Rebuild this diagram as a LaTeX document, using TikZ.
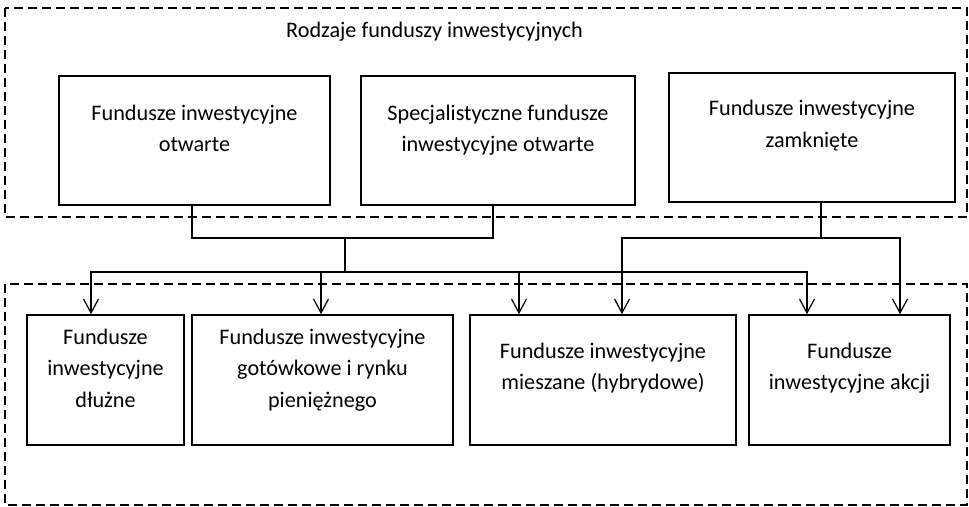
\documentclass[tikz,border=0pt]{standalone}
\usepackage{fontspec}
\setmainfont{Carlito}
\usetikzlibrary{arrows.meta,calc}
\begin{document}
\begin{tikzpicture}[x=1pt,y=-1pt,
  frame/.style={draw, line width=1.3pt, dash pattern=on 9pt off 5pt},
  box/.style={draw, line width=1.6pt, rectangle, inner sep=0pt},
  lbl/.style={anchor=base, align=center, inner sep=0pt,
    font=\fontsize{22.2}{31.6}\selectfont},
  conn/.style={line width=1.2pt},
  arr/.style={line width=1.2pt, -{Straight Barb[length=14pt,width=15pt]}}]
\useasboundingbox (0,0) rectangle (969,506);
% dashed frames
\draw[frame] (5,8) rectangle (967,217);
\draw[frame] (5,284) rectangle (967,505);
\node[lbl, anchor=base west] (title) at (286,37) {Rodzaje funduszy inwestycyjnych};
% top boxes
\node[box, minimum width=271pt, minimum height=129pt] (A) at (194.5,140.5) {};
\node[box, minimum width=274pt, minimum height=129pt] (B) at (498,140.5) {};
\node[box, minimum width=286pt, minimum height=129pt] (C) at (812,137.5) {};
\node[lbl] (tA) at (194.5,151.7) {Fundusze inwestycyjne\\otwarte};
\node[lbl] (tB) at (498,151.7) {Specjalistyczne fundusze\\inwestycyjne otwarte};
\node[lbl] (tC) at (812,147) {Fundusze inwestycyjne\\zamknięte};
% bottom boxes
\node[box, minimum width=157pt, minimum height=130pt] (D) at (105.5,380) {};
\node[box, minimum width=261pt, minimum height=130pt] (E) at (322.5,380) {};
\node[box, minimum width=266pt, minimum height=130pt] (F) at (603,380) {};
\node[box, minimum width=201pt, minimum height=130pt] (G) at (849.5,380) {};
\node[lbl] (tD) at (105.5,407.5) {Fundusze\\inwestycyjne\\dłużne};
\node[lbl] (tE) at (322.5,407.5) {Fundusze inwestycyjne\\gotówkowe i rynku\\pieniężnego};
\node[lbl] (tF) at (603,389.7) {Fundusze inwestycyjne\\mieszane (hybrydowe)};
\node[lbl] (tG) at (849.5,389.7) {Fundusze\\inwestycyjne akcji};
% junctions
\coordinate (j1) at (345,238);
\coordinate (j2) at (345,272);
\coordinate (j3) at (821,238);
% left tree
\draw[conn] ([xshift=-2.5pt]A.south) |- (j1) -| ([xshift=-5pt]B.south);
\draw[conn] (j1) -- (j2);
\draw[arr] (j2) -| ([xshift=-14.5pt]D.north);
\draw[arr] (j2) -| ([xshift=-1.5pt]E.north);
\draw[arr] (j2) -| ([xshift=-84pt]F.north);
\draw[arr] (j2) -| ([xshift=-42.5pt]G.north);
% right tree
\draw[conn] ([xshift=9pt]C.south) -- (j3);
\draw[arr] (j3) -| ([xshift=19pt]F.north);
\draw[arr] (j3) -| ([xshift=50.5pt]G.north);
\end{tikzpicture}
\end{document}
